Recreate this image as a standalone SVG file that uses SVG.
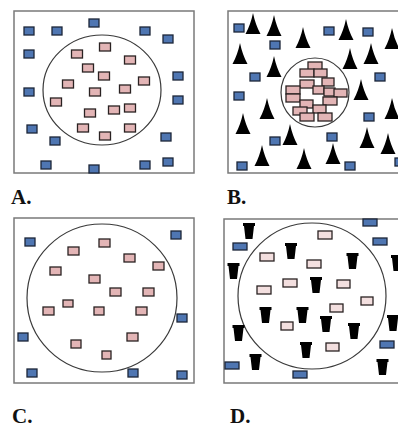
<svg xmlns="http://www.w3.org/2000/svg" xmlns:xlink="http://www.w3.org/1999/xlink" width="398" height="429" viewBox="0 0 398 429">
<style>
.box{fill:#fff;stroke:#7a7a7a;stroke-width:1.5}
.circ{fill:none;stroke:#3a3a3a;stroke-width:1.2}
.b{fill:#4f76b2;stroke:#1c2638;stroke-width:1.3}
.p{fill:#e3b5b6;stroke:#2a2222;stroke-width:1.3}
.lp{fill:#f3dfdf;stroke:#2a2222;stroke-width:1.3}
.k{fill:#000}
.lbl{font-family:"Liberation Serif","Times New Roman",serif;font-weight:bold;font-size:21px;fill:#111}
</style>
<defs>
<path id="tri" d="M0,0 Q2.5,12 7.5,21 H-7.5 Q-2.5,12 0,0 Z"/>
<path id="cup" d="M-6,0 H6 V3 H5 L3.5,16 H-3.5 L-5,3 H-6 Z"/>
</defs>
<rect width="398" height="429" fill="#fff"/>

<g id="panelA">
<rect class="box" x="14" y="11" width="180" height="162"/>
<ellipse class="circ" cx="102" cy="90" rx="59" ry="55"/>
<g id="A-outside">
<rect class="b" x="24" y="27" width="10" height="8"/><rect class="b" x="52" y="27" width="10" height="8"/>
<rect class="b" x="89" y="19" width="10" height="8"/><rect class="b" x="140" y="27" width="10" height="8"/>
<rect class="b" x="163" y="35" width="10" height="8"/><rect class="b" x="24" y="50" width="10" height="8"/>
<rect class="b" x="173" y="72" width="10" height="8"/><rect class="b" x="24" y="88" width="10" height="8"/>
<rect class="b" x="173" y="96" width="10" height="8"/><rect class="b" x="27" y="125" width="10" height="8"/>
<rect class="b" x="50" y="137" width="10" height="8"/><rect class="b" x="161" y="133" width="10" height="8"/>
<rect class="b" x="41" y="161" width="10" height="8"/><rect class="b" x="89" y="165" width="10" height="8"/>
<rect class="b" x="140" y="161" width="10" height="8"/><rect class="b" x="163" y="158" width="10" height="8"/>
</g>
<g id="A-inside">
<rect class="p" x="99.5" y="43" width="11" height="8"/><rect class="p" x="71.5" y="50" width="11" height="8"/>
<rect class="p" x="124.5" y="56" width="11" height="8"/><rect class="p" x="82.5" y="64" width="11" height="8"/>
<rect class="p" x="98.5" y="72" width="11" height="8"/><rect class="p" x="62.5" y="80" width="11" height="8"/>
<rect class="p" x="138.5" y="77" width="11" height="8"/><rect class="p" x="89.5" y="88" width="11" height="8"/>
<rect class="p" x="119.5" y="85" width="11" height="8"/><rect class="p" x="50.5" y="98" width="11" height="8"/>
<rect class="p" x="84.5" y="109" width="11" height="8"/><rect class="p" x="108.5" y="106" width="11" height="8"/>
<rect class="p" x="124.5" y="104" width="11" height="8"/><rect class="p" x="77.5" y="124" width="11" height="8"/>
<rect class="p" x="124.5" y="124" width="11" height="8"/><rect class="p" x="99.5" y="132" width="11" height="8"/>
</g>
<text class="lbl" x="11" y="204">A.</text>
</g>

<g id="panelB">
<path class="box" d="M400,11 H228 V173 H400"/>
<ellipse class="circ" cx="315" cy="92.5" rx="34" ry="34.5"/>
<g id="B-triangles" class="k">
<use xlink:href="#tri" x="253" y="13"/><use xlink:href="#tri" x="274" y="15"/>
<use xlink:href="#tri" x="303" y="27"/><use xlink:href="#tri" x="346" y="19"/>
<use xlink:href="#tri" x="392" y="28"/><use xlink:href="#tri" x="240" y="43"/>
<use xlink:href="#tri" x="274" y="56"/><use xlink:href="#tri" x="350" y="48"/>
<use xlink:href="#tri" x="371" y="43"/><use xlink:href="#tri" x="361" y="79"/>
<use xlink:href="#tri" x="267" y="98"/><use xlink:href="#tri" x="392" y="98"/>
<use xlink:href="#tri" x="243" y="113"/><use xlink:href="#tri" x="290" y="124"/>
<use xlink:href="#tri" x="367" y="127"/><use xlink:href="#tri" x="388" y="133"/>
<use xlink:href="#tri" x="262" y="145"/><use xlink:href="#tri" x="304" y="148"/>
<use xlink:href="#tri" x="333" y="143"/>
</g>
<g id="B-outside">
<rect class="b" x="234" y="24" width="10" height="8"/><rect class="b" x="270" y="41" width="10" height="8"/>
<rect class="b" x="250" y="73" width="10" height="8"/><rect class="b" x="234" y="92" width="10" height="8"/>
<rect class="b" x="324" y="27" width="10" height="8"/><rect class="b" x="363" y="28" width="10" height="8"/>
<rect class="b" x="375" y="73" width="10" height="8"/><rect class="b" x="364" y="113" width="10" height="8"/>
<rect class="b" x="327" y="133" width="10" height="8"/><rect class="b" x="270" y="137" width="10" height="8"/>
<rect class="b" x="237" y="162" width="10" height="8"/><rect class="b" x="345" y="162" width="10" height="8"/>
<rect class="b" x="395" y="158" width="10" height="8"/>
</g>
<g id="B-cluster">
<rect class="p" x="308" y="62" width="14" height="8"/><rect class="p" x="300" y="69" width="14" height="8"/>
<rect class="p" x="314" y="69" width="13" height="8"/><rect class="p" x="300" y="80" width="14" height="8"/>
<rect class="p" x="322" y="78" width="12" height="8"/><rect class="p" x="286" y="86" width="14" height="8"/>
<rect class="p" x="313" y="86" width="11" height="8"/><rect class="p" x="324" y="88" width="11" height="8"/>
<rect class="p" x="334" y="89" width="13" height="8"/><rect class="p" x="286" y="94" width="14" height="8"/>
<rect class="p" x="300" y="100" width="13" height="8"/><rect class="p" x="323" y="97" width="14" height="8"/>
<rect class="p" x="293" y="107" width="14" height="8"/><rect class="p" x="313" y="105" width="13" height="8"/>
<rect class="p" x="300" y="113" width="14" height="8"/><rect class="p" x="318" y="113" width="14" height="8"/>
</g>
<text class="lbl" x="227" y="204">B.</text>
</g>

<g id="panelC">
<rect class="box" x="14" y="218" width="180" height="165"/>
<ellipse class="circ" cx="102" cy="298" rx="75" ry="74"/>
<g id="C-outside">
<rect class="b" x="25" y="238" width="10" height="8"/><rect class="b" x="171" y="231" width="10" height="8"/>
<rect class="b" x="177" y="314" width="10" height="8"/><rect class="b" x="18" y="333" width="10" height="8"/>
<rect class="b" x="27" y="369" width="10" height="8"/><rect class="b" x="128" y="369" width="10" height="8"/>
<rect class="b" x="177" y="371" width="10" height="8"/>
</g>
<g id="C-inside">
<rect class="p" x="99" y="239" width="11" height="8"/><rect class="p" x="68" y="247" width="11" height="8"/>
<rect class="p" x="124" y="254" width="11" height="8"/><rect class="p" x="153" y="262" width="11" height="8"/>
<rect class="p" x="50" y="267" width="11" height="8"/><rect class="p" x="89" y="275" width="11" height="8"/>
<rect class="p" x="110" y="288" width="11" height="8"/><rect class="p" x="143" y="288" width="11" height="8"/>
<rect class="p" x="63" y="300" width="10" height="7"/><rect class="p" x="43" y="307" width="11" height="8"/>
<rect class="p" x="94" y="307" width="10" height="8"/><rect class="p" x="136" y="307" width="11" height="8"/>
<rect class="p" x="127" y="333" width="11" height="8"/><rect class="p" x="71" y="340" width="10" height="8"/>
<rect class="p" x="102" y="351" width="9" height="8"/>
</g>
<text class="lbl" x="12" y="423">C.</text>
</g>

<g id="panelD">
<path class="box" d="M400,219 H224 V383 H400"/>
<ellipse class="circ" cx="312" cy="296" rx="74" ry="73"/>
<g id="D-cups" class="k">
<use xlink:href="#cup" x="249" y="223"/><use xlink:href="#cup" x="291" y="243"/>
<use xlink:href="#cup" x="233.5" y="263"/><use xlink:href="#cup" x="352.5" y="253"/>
<use xlink:href="#cup" x="397" y="255"/><use xlink:href="#cup" x="316" y="277"/>
<use xlink:href="#cup" x="265.5" y="307"/><use xlink:href="#cup" x="302.5" y="307"/>
<use xlink:href="#cup" x="326" y="316"/><use xlink:href="#cup" x="354" y="323"/>
<use xlink:href="#cup" x="393" y="315"/><use xlink:href="#cup" x="238.5" y="325"/>
<use xlink:href="#cup" x="306" y="342"/><use xlink:href="#cup" x="255.5" y="354"/>
<use xlink:href="#cup" x="382.5" y="359"/>
</g>
<g id="D-inside">
<rect class="lp" x="318" y="231" width="14" height="8"/><rect class="lp" x="260" y="253" width="14" height="8"/>
<rect class="lp" x="307" y="260" width="14" height="8"/><rect class="lp" x="283" y="279" width="14" height="8"/>
<rect class="lp" x="257" y="286" width="14" height="8"/><rect class="lp" x="337" y="280" width="13" height="8"/>
<rect class="lp" x="361" y="297" width="12" height="8"/><rect class="lp" x="330" y="304" width="13" height="8"/>
<rect class="lp" x="281" y="322" width="12" height="8"/><rect class="lp" x="326" y="343" width="13" height="8"/>
</g>
<g id="D-outside">
<rect class="b" x="363" y="219" width="14" height="7"/><rect class="b" x="233" y="243" width="14" height="7"/>
<rect class="b" x="373" y="238" width="14" height="7"/><rect class="b" x="380" y="341" width="14" height="7"/>
<rect class="b" x="225" y="362" width="14" height="7"/><rect class="b" x="293" y="371" width="14" height="7"/>
</g>
<text class="lbl" x="230" y="423">D.</text>
</g>
</svg>
